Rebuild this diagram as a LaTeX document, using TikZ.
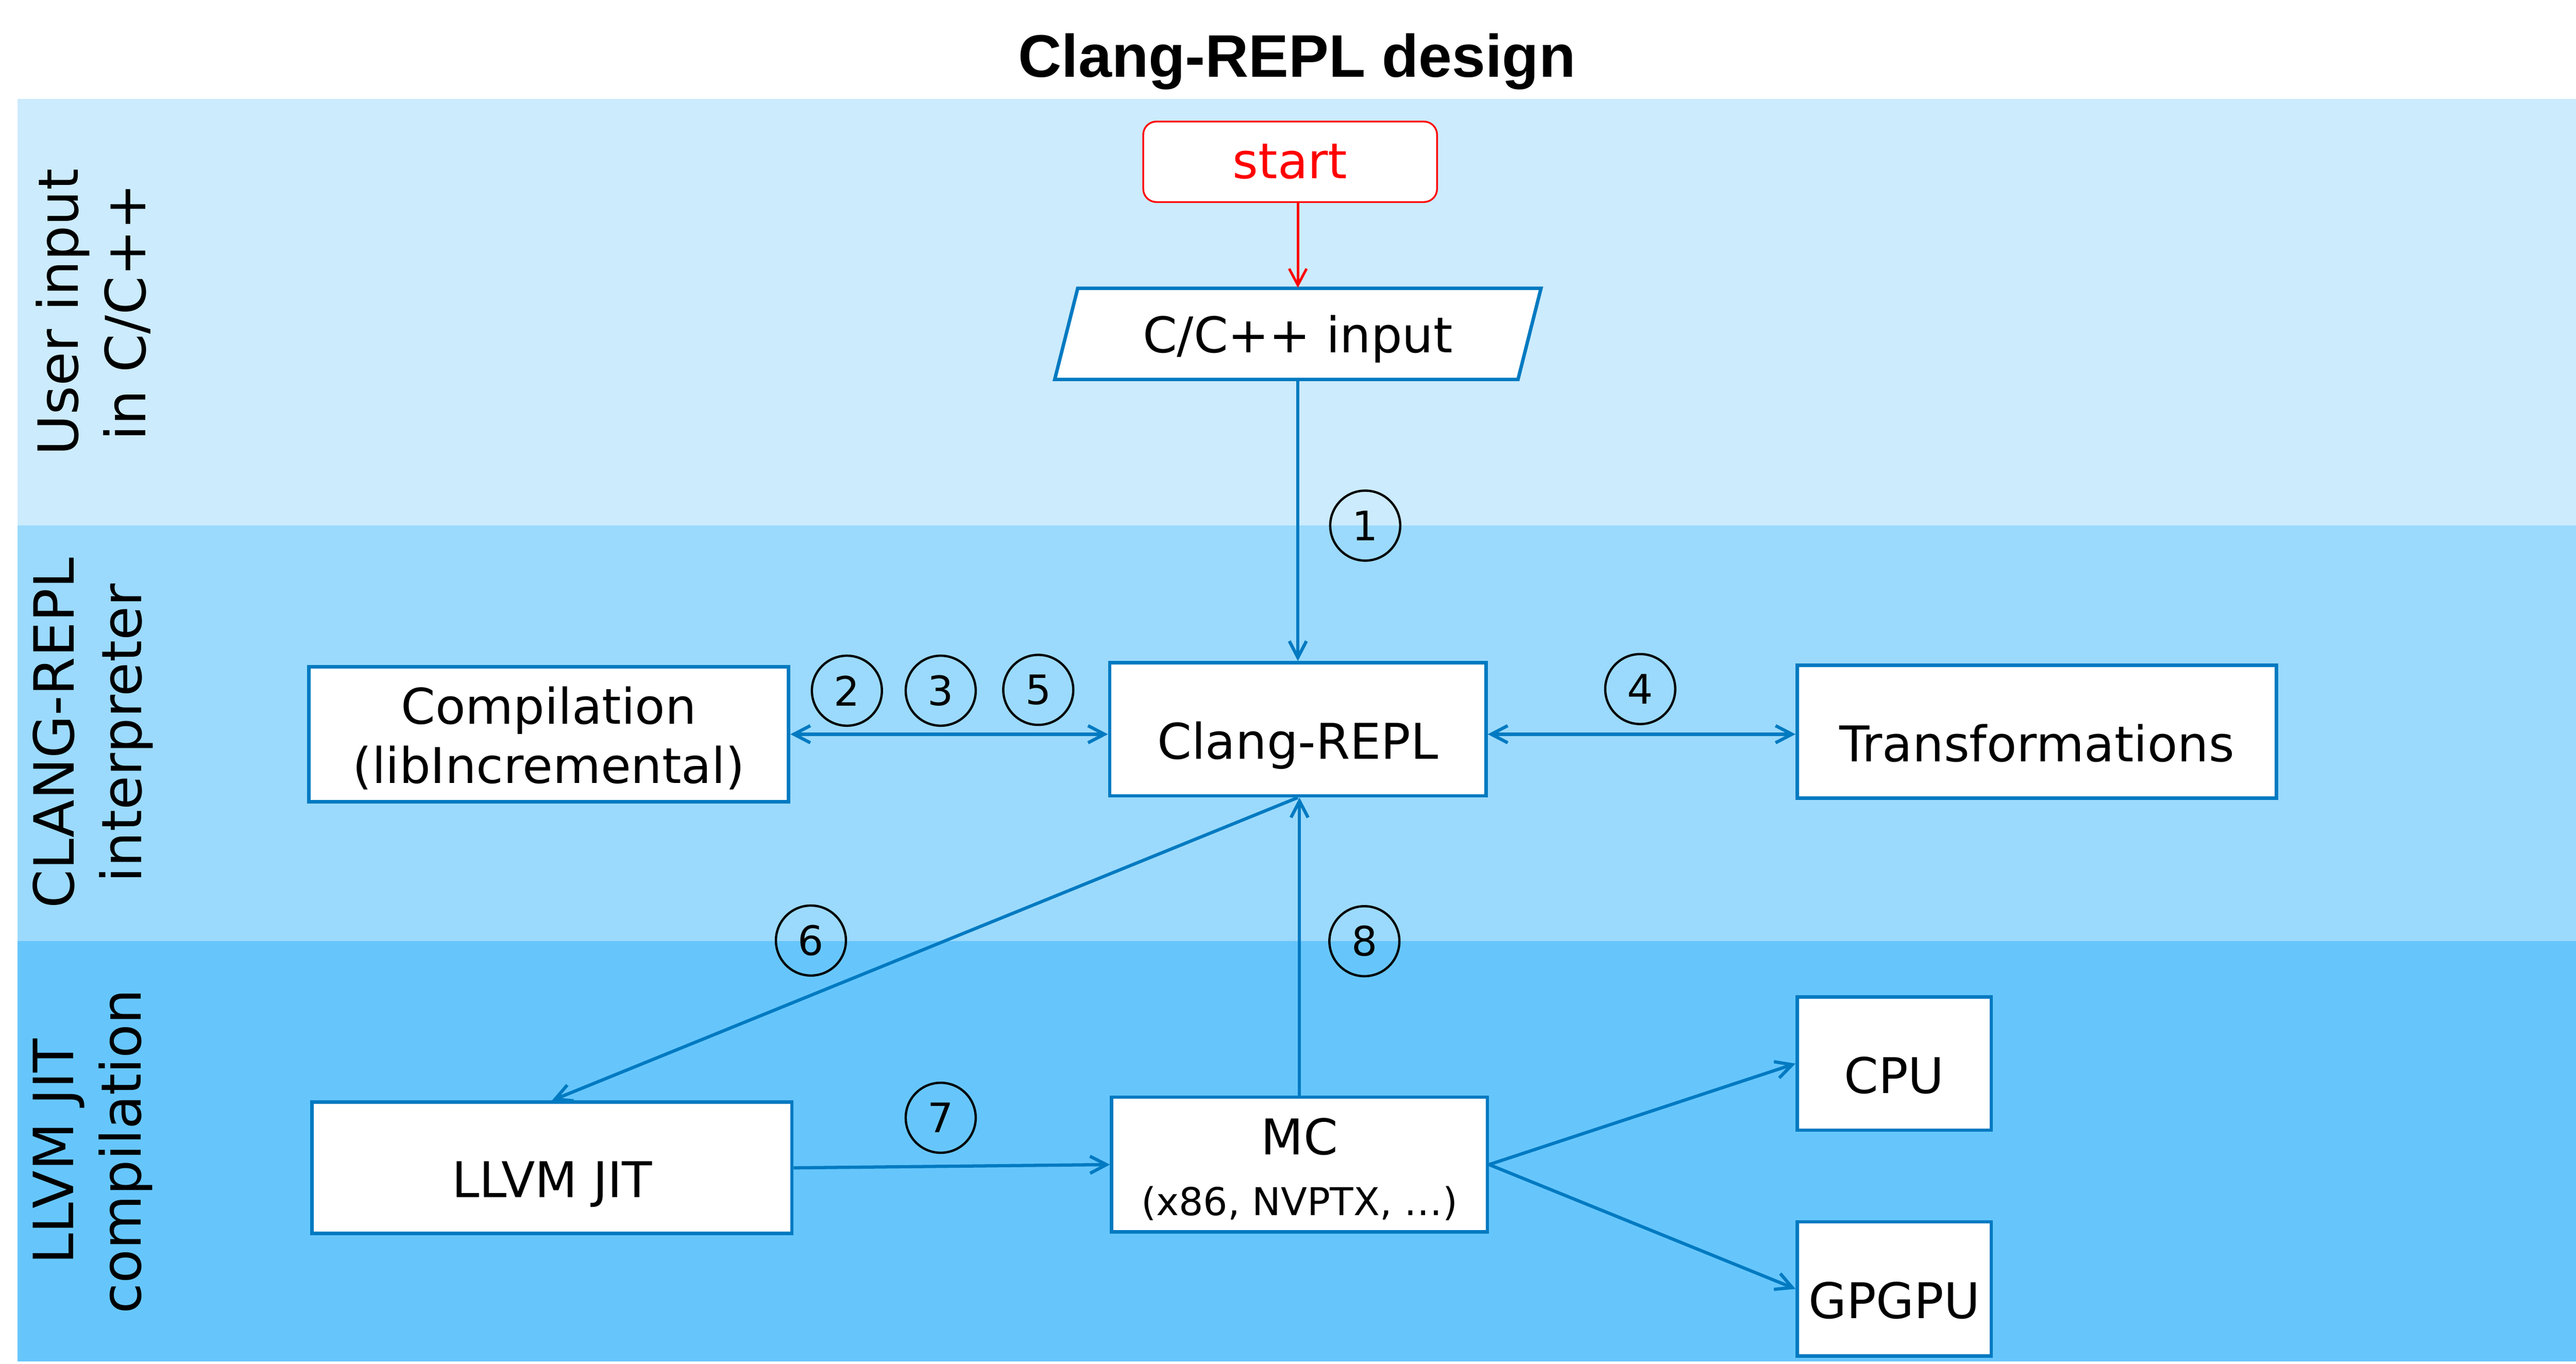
\documentclass[tikz,border=0pt]{standalone}
\usepackage{fontspec}
\setmainfont{DejaVu Sans}
\newfontfamily\titlefont{Liberation Sans}
\usetikzlibrary{arrows.meta,calc}

\definecolor{bandA}{RGB}{204,235,253}
\definecolor{bandB}{RGB}{155,218,253}
\definecolor{bandC}{RGB}{102,198,252}
\definecolor{lineblue}{RGB}{0,122,193}
\definecolor{startred}{RGB}{255,0,0}

\begin{document}
\begin{tikzpicture}[x=0.025cm,y=-0.025cm,
  box/.style={draw=lineblue, line width=1.5pt, fill=white, inner sep=0pt,
    align=center, font=\fontsize{21.3pt}{25.6pt}\selectfont},
  onebox/.style={box, text height=25.6pt, text depth=0pt},
  conn/.style={draw=lineblue, line width=1.4pt,
    -{Straight Barb[length=2.5mm,width=2.6mm]}},
  dconn/.style={draw=lineblue, line width=1.4pt,
    {Straight Barb[length=2.5mm,width=2.6mm]}-{Straight Barb[length=2.5mm,width=2.6mm]}},
  num/.style={circle, draw=black, line width=1pt, minimum size=1.065cm,
    inner sep=0pt, font=\fontsize{17.6pt}{20pt}\selectfont},
  lanelabel/.style={rotate=90, align=center, anchor=center,
    font=\fontsize{24pt}{29.2pt}\selectfont}
]
\useasboundingbox (0,0) rectangle (1568,830.27);

% bands
\fill[bandA] (10.8,60.3) rectangle (1568,320);
\fill[bandB] (10.8,320) rectangle (1568,573);
\fill[bandC] (10.8,573) rectangle (1568,828.8);

% title
\node[anchor=base, font=\titlefont\bfseries\fontsize{26pt}{31pt}\selectfont]
  (title) at (789.5,46.8) {Clang-REPL design};

% lane labels
\node[lanelabel] (laneA) at (56.8,190) {User input\\in C/C++};
\node[lanelabel] (laneB) at (56.5,446.3) {CLANG-REPL\\interpreter};
\node[lanelabel] (laneC) at (56.3,701) {LLVM JIT\\compilation};

% start
\node[draw=startred, line width=0.75pt, fill=white, rounded corners=2mm,
  minimum width=4.47cm, minimum height=1.225cm, inner sep=0pt,
  text=startred, font=\fontsize{21.3pt}{25.6pt}\selectfont]
  (start) at (785.3,98.5) {start};

% input parallelogram
\filldraw[draw=lineblue, line width=1.5pt, fill=white]
  (656,175.5) -- (938,175.5) -- (924,231) -- (642,231) -- cycle;
\node[minimum width=7.05cm, minimum height=1.3875cm, inner sep=0pt,
  text height=16.4pt, text depth=0pt, font=\fontsize{21.3pt}{25.6pt}\selectfont]
  (inp) at (790,203.25) {C/C++ input};

% boxes
\node[box, minimum width=7.3cm, minimum height=2.05cm] (comp) at (334,447)
  {\rule{0pt}{19.5pt}Compilation\\(libIncremental)};
\node[onebox, minimum width=5.725cm, minimum height=2.025cm] (repl) at (790,444)
  {Clang-REPL};
\node[onebox, minimum width=7.29cm, minimum height=2.025cm] (trans) at (1239.8,445.5)
  {Transformations};
\node[onebox, minimum width=7.3cm, minimum height=2cm] (llvm) at (336,711)
  {LLVM JIT};
\node[box, minimum width=5.715cm, minimum height=2.05cm] (mc) at (791,709)
  {\rule{0pt}{19.9pt}MC\\[0.7pt]{\fontsize{16.6pt}{20pt}\selectfont (x86, NVPTX, …)}};
\node[onebox, minimum width=2.95cm, minimum height=2.025cm] (cpu) at (1153,647.5)
  {CPU};
\node[onebox, minimum width=2.95cm, minimum height=2.04cm] (gpgpu) at (1153,784.7)
  {GPGPU};

% connectors
\draw[draw=startred, line width=1.1pt, -{Straight Barb[length=2.5mm,width=2.65mm]}]
  (start.south -| inp.north) -- (inp.north);
\draw[conn] (inp.south) -- (repl.north);
\draw[dconn] (comp.east) -- (comp.east -| repl.west);
\draw[dconn] (repl.east |- comp.east) -- (trans.west |- comp.east);
\draw[conn] (repl.south) -- (llvm.north);
\draw[conn] (mc.north) -- (mc.north |- repl.south);
\draw[conn] (llvm.east) -- (mc.west);
\draw[conn] (mc.east) -- (cpu.west);
\draw[conn] (mc.east) -- (gpgpu.west);

% step numbers
\node[num] (n1) at (831,320) {1};
\node[num] (n2) at (515.5,420.5) {2};
\node[num] (n3) at (572.6,420.5) {3};
\node[num] (n5) at (632,420) {5};
\node[num] (n4) at (998.4,419.5) {4};
\node[num] (n6) at (493.6,572.6) {6};
\node[num] (n7) at (572.6,680.5) {7};
\node[num] (n8) at (830.5,573) {8};
\end{tikzpicture}
\end{document}
